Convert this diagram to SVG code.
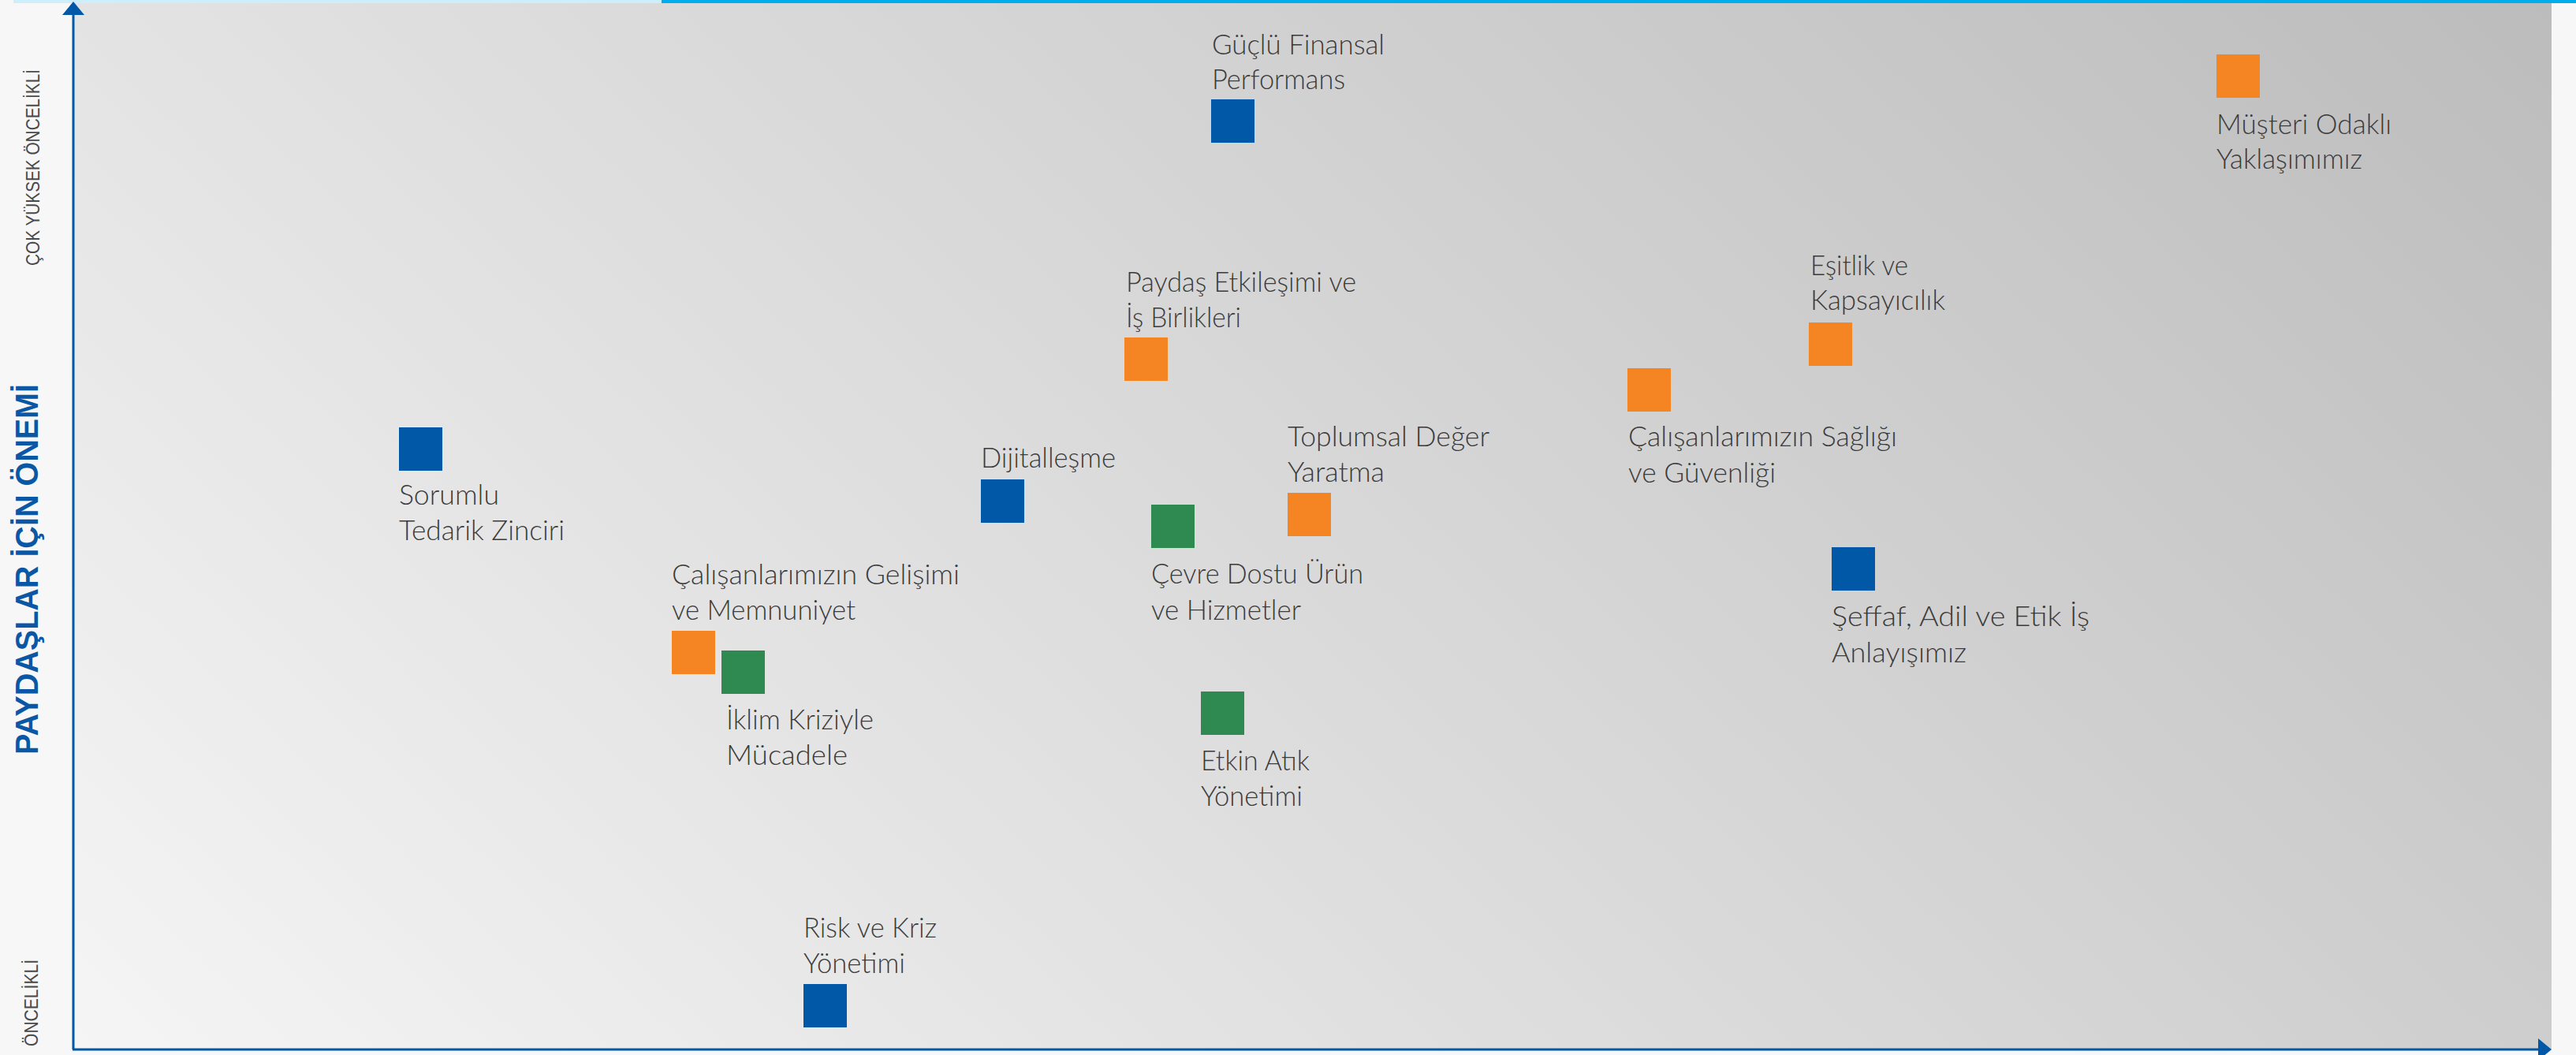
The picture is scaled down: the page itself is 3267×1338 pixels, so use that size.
<svg xmlns="http://www.w3.org/2000/svg" width="3267" height="1338" viewBox="0 0 3267 1338">
<defs>
<linearGradient id="plotGrad" gradientUnits="userSpaceOnUse" x1="93" y1="1331" x2="2217" y2="-946">
<stop offset="0" stop-color="#f5f5f5"/>
<stop offset="1" stop-color="#bdbcbc"/>
</linearGradient>
<marker id="arrow" markerUnits="userSpaceOnUse" markerWidth="17" markerHeight="28" refX="0" refY="14" orient="auto">
<path d="M0,0 L17,14 L0,28 Z" fill="#0058a7"/>
</marker>
<style>
.lbl{font-family:Lato,"Open Sans","Liberation Sans",sans-serif;font-size:36px;font-weight:300;fill:#3b3b3b}
.sq{stroke:none}
.blue{fill:#0058a7}
.orange{fill:#f58423}
.green{fill:#2f8a52}
.axis{stroke:#0058a7;stroke-width:3;fill:none}
.axlbl{font-family:"Liberation Sans","DejaVu Sans",sans-serif;font-size:24px;fill:#4a4a4a}
.axtitle{font-family:"Liberation Sans","DejaVu Sans",sans-serif;font-size:40px;font-weight:bold;fill:#0a58a5}
</style>
</defs>
<rect x="0" y="0" width="3267" height="1338" fill="#f7f7f7"/>
<rect x="93" y="4" width="3143" height="1327" fill="url(#plotGrad)"/>
<rect x="17" y="0" width="822" height="4" fill="#cdeefb"/>
<rect x="839" y="0" width="2428" height="4" fill="#00aeef"/>

<g id="axis-labels">
<text class="axlbl" transform="translate(50,337) rotate(-90)" textLength="249" lengthAdjust="spacingAndGlyphs">ÇOK YÜKSEK ÖNCELİKLİ</text>
<text class="axtitle" transform="translate(48,957) rotate(-90)" textLength="470" lengthAdjust="spacingAndGlyphs">PAYDAŞLAR İÇİN ÖNEMİ</text>
<text class="axlbl" transform="translate(48,1327) rotate(-90)" textLength="110" lengthAdjust="spacingAndGlyphs">ÖNCELİKLİ</text>
</g>

<g id="connectors">
<line class="axis" x1="93" y1="1331" x2="93" y2="19" marker-end="url(#arrow)"/>
<line class="axis" x1="92" y1="1331" x2="3219" y2="1331" marker-end="url(#arrow)"/>
</g>

<g id="node-guclu-finansal">
<rect class="sq blue" x="1536" y="126" width="55" height="55"/>
<text class="lbl" x="1537" y="69" textLength="219" lengthAdjust="spacingAndGlyphs">Güçlü Finansal</text>
<text class="lbl" x="1537" y="113" textLength="169" lengthAdjust="spacingAndGlyphs">Performans</text>
</g>

<g id="node-musteri-odakli">
<rect class="sq orange" x="2811" y="69" width="55" height="55"/>
<text class="lbl" x="2811" y="170" textLength="222" lengthAdjust="spacingAndGlyphs">Müşteri Odaklı</text>
<text class="lbl" x="2811" y="214" textLength="185" lengthAdjust="spacingAndGlyphs">Yaklaşımımız</text>
</g>

<g id="node-paydas-etkilesimi">
<rect class="sq orange" x="1426" y="428" width="55" height="55"/>
<text class="lbl" x="1428" y="370" textLength="292" lengthAdjust="spacingAndGlyphs">Paydaş Etkileşimi ve</text>
<text class="lbl" x="1428" y="415" textLength="146" lengthAdjust="spacingAndGlyphs">İş Birlikleri</text>
</g>

<g id="node-esitlik">
<rect class="sq orange" x="2294" y="409" width="55" height="55"/>
<text class="lbl" x="2296" y="349" textLength="124" lengthAdjust="spacingAndGlyphs">Eşitlik ve</text>
<text class="lbl" x="2296" y="393" textLength="171" lengthAdjust="spacingAndGlyphs">Kapsayıcılık</text>
</g>

<g id="node-calisan-saglik">
<rect class="sq orange" x="2064" y="467" width="55" height="55"/>
<text class="lbl" x="2065" y="566" textLength="341" lengthAdjust="spacingAndGlyphs">Çalışanlarımızın Sağlığı</text>
<text class="lbl" x="2065" y="612" textLength="187" lengthAdjust="spacingAndGlyphs">ve Güvenliği</text>
</g>

<g id="node-sorumlu-tedarik">
<rect class="sq blue" x="506" y="542" width="55" height="55"/>
<text class="lbl" x="506" y="640" textLength="127" lengthAdjust="spacingAndGlyphs">Sorumlu</text>
<text class="lbl" x="506" y="685" textLength="210" lengthAdjust="spacingAndGlyphs">Tedarik Zinciri</text>
</g>

<g id="node-dijitallesme">
<rect class="sq blue" x="1244" y="608" width="55" height="55"/>
<text class="lbl" x="1244" y="593" textLength="171" lengthAdjust="spacingAndGlyphs">Dijitalleşme</text>
</g>

<g id="node-toplumsal-deger">
<rect class="sq orange" x="1633" y="625" width="55" height="55"/>
<text class="lbl" x="1633" y="566" textLength="256" lengthAdjust="spacingAndGlyphs">Toplumsal Değer</text>
<text class="lbl" x="1633" y="611" textLength="123" lengthAdjust="spacingAndGlyphs">Yaratma</text>
</g>

<g id="node-cevre-dostu">
<rect class="sq green" x="1460" y="640" width="55" height="55"/>
<text class="lbl" x="1460" y="740" textLength="269" lengthAdjust="spacingAndGlyphs">Çevre Dostu Ürün</text>
<text class="lbl" x="1460" y="786" textLength="190" lengthAdjust="spacingAndGlyphs">ve Hizmetler</text>
</g>

<g id="node-seffaf-adil">
<rect class="sq blue" x="2323" y="694" width="55" height="55"/>
<text class="lbl" x="2323" y="794" textLength="327" lengthAdjust="spacingAndGlyphs">Şeffaf, Adil ve Etik İş</text>
<text class="lbl" x="2323" y="840" textLength="171" lengthAdjust="spacingAndGlyphs">Anlayışımız</text>
</g>

<g id="node-calisan-gelisim">
<rect class="sq orange" x="852" y="800" width="55" height="55"/>
<text class="lbl" x="852" y="741" textLength="365" lengthAdjust="spacingAndGlyphs">Çalışanlarımızın Gelişimi</text>
<text class="lbl" x="852" y="786" textLength="233" lengthAdjust="spacingAndGlyphs">ve Memnuniyet</text>
</g>

<g id="node-iklim-krizi">
<rect class="sq green" x="915" y="825" width="55" height="55"/>
<text class="lbl" x="921" y="925" textLength="187" lengthAdjust="spacingAndGlyphs">İklim Kriziyle</text>
<text class="lbl" x="921" y="970" textLength="154" lengthAdjust="spacingAndGlyphs">Mücadele</text>
</g>

<g id="node-etkin-atik">
<rect class="sq green" x="1523" y="877" width="55" height="55"/>
<text class="lbl" x="1523" y="977" textLength="138" lengthAdjust="spacingAndGlyphs">Etkin Atık</text>
<text class="lbl" x="1523" y="1022" textLength="129" lengthAdjust="spacingAndGlyphs">Yönetimi</text>
</g>

<g id="node-risk-kriz">
<rect class="sq blue" x="1019" y="1248" width="55" height="55"/>
<text class="lbl" x="1019" y="1189" textLength="169" lengthAdjust="spacingAndGlyphs">Risk ve Kriz</text>
<text class="lbl" x="1019" y="1234" textLength="129" lengthAdjust="spacingAndGlyphs">Yönetimi</text>
</g>
</svg>
